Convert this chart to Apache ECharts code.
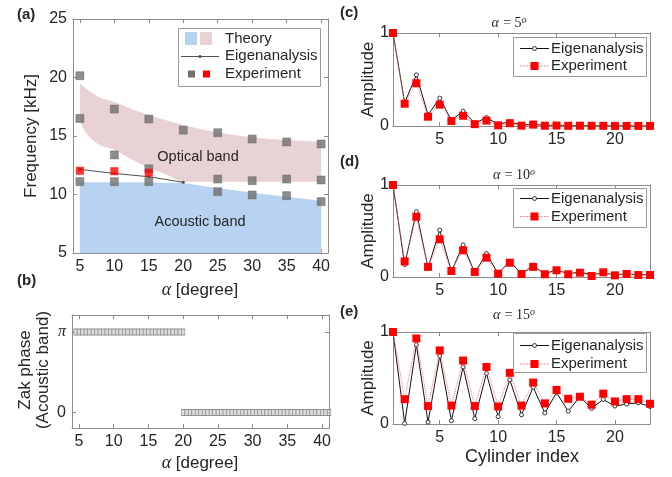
<!DOCTYPE html>
<html><head><meta charset="utf-8">
<script src="https://cdn.jsdelivr.net/npm/echarts@6/dist/echarts.min.js"></script>
<style>html,body{margin:0;padding:0;background:#fff}#c{width:672px;height:477px}</style>
</head><body><div id="c"></div>
<script>
// ---------- Panel (a): band structure ----------
const alphaTicks = [5, 10, 15, 20, 25, 30, 35, 40];
const freqTicks = [5, 10, 15, 20, 25];
const bandAlpha      = [5, 6, 7, 8, 10, 12.5, 15, 17.5, 20, 22.5, 25, 30, 35, 40];
const acousticUpper  = [11.05, 11.05, 11.05, 11.05, 11.05, 11.04, 11.02, 11.0, 10.98, 10.75, 10.55, 10.15, 9.8, 9.45];
const opticalUpper   = [19.5, 19.0, 18.6, 18.25, 17.9, 17.3, 16.8, 16.35, 15.95, 15.6, 15.3, 14.9, 14.65, 14.5];
const opticalLower   = [16.2, 15.2, 14.6, 14.2, 13.8, 13.0, 12.3, 11.7, 11.1, 11.1, 11.1, 11.1, 11.1, 11.1];
const eigenAlpha = [5, 10, 15, 20];
const eigenFreq  = [12.15, 11.8, 11.52, 11.04];
const expTopAlpha = [5, 10, 15, 20, 25, 30, 35, 40];
const expTopFreq  = [20.15, 17.3, 16.45, 15.5, 15.28, 14.74, 14.49, 14.32];
const expMidAlpha = [5, 10, 15, 25, 30, 35, 40];
const expMidFreq  = [16.5, 13.38, 12.2, 11.32, 11.18, 11.32, 11.24];
const expLowAlpha = [5, 10, 15, 25, 30, 35, 40];
const expLowFreq  = [11.1, 11.1, 11.1, 10.24, 9.96, 9.9, 9.39];
const expRedAlpha = [5, 10, 15];
const expRedFreq  = [12.03, 11.99, 11.86];
// ---------- Panel (b): Zak phase ----------
const zakAlphaNontrivial = [4.5,5,5.5,6,6.5,7,7.5,8,8.5,9,9.5,10,10.5,11,11.5,12,12.5,13,13.5,14,14.5,15,15.5,16,16.5,17,17.5,18,18.5,19,19.5,20];
const zakAlphaTrivial = [20,20.5,21,21.5,22,22.5,23,23.5,24,24.5,25,25.5,26,26.5,27,27.5,28,28.5,29,29.5,30,30.5,31,31.5,32,32.5,33,33.5,34,34.5,35,35.5,36,36.5,37,37.5,38,38.5,39,39.5,40,40.5,41];
const zakNontrivial = Math.PI;
const zakTrivial = 0;
// ---------- Panels (c)-(e): mode amplitudes ----------
const cylinderIndex = [1,2,3,4,5,6,7,8,9,10,11,12,13,14,15,16,17,18,19,20,21,22,23];
const cylinderTicks = [5, 10, 15, 20];
const amp5Eigen  = [1.0,0.25,0.55,0.12,0.30,0.06,0.16,0.03,0.09,0.02,0.045,0.01,0.02,0.005,0.01,0.003,0.004,0.002,0.002,0.001,0.001,0.001,0.001];
const amp5Exp    = [1.0,0.24,0.46,0.10,0.23,0.054,0.11,0.02,0.058,0.007,0.03,0.004,0.015,0.003,0.005,0.002,0.003,0.002,0.002,0.001,0.001,0.001,0.001];
const amp10Eigen = [1.0,0.135,0.71,0.10,0.51,0.06,0.35,0.045,0.255,0.036,0.17,0.036,0.12,0.033,0.08,0.033,0.055,0.025,0.044,0.025,0.033,0.025,0.025];
const amp10Exp   = [1.0,0.17,0.655,0.11,0.41,0.065,0.29,0.055,0.21,0.036,0.155,0.033,0.11,0.03,0.073,0.03,0.047,0.011,0.051,0.018,0.033,0.022,0.022];
const amp15Eigen = [1.0,0.007,0.86,0.02,0.74,0.036,0.62,0.058,0.55,0.08,0.48,0.10,0.40,0.12,0.34,0.14,0.296,0.17,0.267,0.195,0.217,0.23,0.19];
const amp15Exp   = [1.0,0.27,0.93,0.195,0.80,0.20,0.69,0.195,0.62,0.19,0.556,0.20,0.45,0.224,0.37,0.274,0.296,0.21,0.33,0.245,0.27,0.27,0.22];

const FRAME = '#8c8c8c', TXT = '#262626', SANS = 'Liberation Sans, Arial, sans-serif', SERIF = 'Liberation Serif, DejaVu Serif, serif';
const BLUE = '#b8d3f1', PINK = '#e8d2d3', GRAY = '#707070', RED = '#ff0000';
const zip = (xs, ys) => xs.map((x, i) => [x, ys[i]]);

const grids = [
  {left: 73, top: 19, width: 255, height: 234},
  {left: 72, top: 315, width: 257, height: 113},
  {left: 393, top: 33, width: 257, height: 93},
  {left: 393, top: 185, width: 257, height: 92},
  {left: 393, top: 332, width: 257, height: 92}
];
const xSpec = [
  {min: 4, max: 41, ticks: alphaTicks},
  {min: 4, max: 41, ticks: alphaTicks},
  {min: 1, max: 23, ticks: cylinderTicks},
  {min: 1, max: 23, ticks: cylinderTicks},
  {min: 1, max: 23, ticks: cylinderTicks}
];
const ySpec = [
  {min: 5, max: 25, ticks: freqTicks},
  {min: -0.6, max: 3.8, ticks: [0, Math.PI]},
  {min: 0, max: 1, ticks: [0, 1]},
  {min: 0, max: 1, ticks: [0, 1]},
  {min: 0, max: 1, ticks: [0, 1]}
];
const xAxis = [], yAxis = [];
grids.forEach((g, i) => {
  ['bottom', 'top'].forEach((pos, k) => xAxis.push({
    type: 'value', gridIndex: i, min: xSpec[i].min, max: xSpec[i].max, position: pos,
    axisLine: {show: true, onZero: false, lineStyle: {color: FRAME, width: 1}},
    axisTick: {show: true, inside: true, length: 4, customValues: xSpec[i].ticks, lineStyle: {color: FRAME}},
    axisLabel: {show: k === 0, customValues: xSpec[i].ticks, color: TXT, fontSize: 16, fontFamily: SANS, margin: 6},
    splitLine: {show: false}
  }));
  ['left', 'right'].forEach((pos, k) => yAxis.push({
    type: 'value', gridIndex: i, min: ySpec[i].min, max: ySpec[i].max, position: pos,
    axisLine: {show: true, onZero: false, lineStyle: {color: FRAME, width: 1}},
    axisTick: {show: true, inside: true, length: 4, customValues: ySpec[i].ticks, lineStyle: {color: FRAME}},
    axisLabel: {show: k === 0, customValues: ySpec[i].ticks, color: TXT, fontSize: 16, fontFamily: SANS, margin: i >= 2 ? 4 : 6,
      formatter: i === 1 ? (v => (v > 1 ? '{p|π}' : '0')) : null,
      rich: {p: {fontFamily: SERIF, fontStyle: 'italic', fontSize: 16, color: TXT}}},
    splitLine: {show: false}
  }));
});

const series = [];
const ax = i => ({xAxisIndex: 2 * i, yAxisIndex: 2 * i});
// bands
series.push(Object.assign({type: 'line', name: 'Theory optical', data: zip(bandAlpha, opticalUpper), smooth: 0.3, showSymbol: false, silent: true,
  lineStyle: {width: 0}, areaStyle: {color: PINK, opacity: 1, origin: 'start'}, z: 1}, ax(0)));
series.push(Object.assign({type: 'line', name: 'gap', data: zip(bandAlpha, opticalLower), smooth: 0.3, showSymbol: false, silent: true,
  lineStyle: {width: 0}, areaStyle: {color: '#ffffff', opacity: 1, origin: 'start'}, z: 1}, ax(0)));
series.push(Object.assign({type: 'line', name: 'Theory acoustic', data: zip(bandAlpha, acousticUpper), smooth: 0.3, showSymbol: false, silent: true,
  lineStyle: {width: 0}, areaStyle: {color: BLUE, opacity: 1, origin: 'start'}, z: 1}, ax(0)));
series.push(Object.assign({type: 'line', name: 'Eigenanalysis', data: zip(eigenAlpha, eigenFreq), symbol: 'circle', symbolSize: 3,
  lineStyle: {color: '#505050', width: 1}, itemStyle: {color: '#505050'}, z: 3}, ax(0)));
[[expTopAlpha, expTopFreq], [expMidAlpha, expMidFreq], [expLowAlpha, expLowFreq]].forEach(([xs, ys]) => {
  series.push(Object.assign({type: 'scatter', name: 'Experiment', data: zip(xs, ys), symbol: 'rect', symbolSize: 8,
    itemStyle: {color: GRAY, borderColor: '#5a5a5a', borderWidth: 0.5}, z: 4}, ax(0)));
});
series.push(Object.assign({type: 'scatter', name: 'Experiment red', data: zip(expRedAlpha, expRedFreq), symbol: 'rect', symbolSize: 8,
  itemStyle: {color: RED}, z: 5}, ax(0)));
// zak phase
[[zakAlphaNontrivial, zakNontrivial], [zakAlphaTrivial, zakTrivial]].forEach(([xs, v]) => {
  series.push(Object.assign({type: 'scatter', name: 'Zak', data: xs.map(x => [x, v]), symbol: 'rect', symbolSize: [3.5, 6], clip: false,
    itemStyle: {color: '#d2d2d2', borderColor: '#7a7a7a', borderWidth: 0.8}, z: 3}, ax(1)));
});
// amplitudes
[[amp5Eigen, amp5Exp], [amp10Eigen, amp10Exp], [amp15Eigen, amp15Exp]].forEach(([e, x], k) => {
  const gi = k + 2;
  series.push(Object.assign({type: 'line', name: 'Eigenanalysis', data: zip(cylinderIndex, e), symbol: 'circle', symbolSize: 4,
    lineStyle: {color: '#111', width: 1}, itemStyle: {color: '#fff', borderColor: '#333', borderWidth: 1}, z: 3}, ax(gi)));
  series.push(Object.assign({type: 'line', name: 'Experiment', data: zip(cylinderIndex, x), symbol: 'rect', symbolSize: 8,
    lineStyle: {color: '#ff7070', width: 1, type: 'dotted'}, itemStyle: {color: RED}, z: 4}, ax(gi)));
});

// ---------- graphic: labels, titles, legends ----------
const G = [];
const txt = (x, y, text, o) => G.push(Object.assign({type: 'text', x, y, z: 100,
  style: Object.assign({text, fill: TXT, font: '16px ' + SANS, align: 'center', verticalAlign: 'middle'}, (o && o.style) || {})},
  o ? {rotation: o.rotation || 0} : {}));
// panel letters
[['(a)', 17, 15], ['(b)', 17, 281], ['(c)', 340, 13], ['(d)', 340, 162], ['(e)', 340, 312]].forEach(([t, x, y]) =>
  txt(x, y, t, {style: {font: 'bold 15px ' + SANS, align: 'left'}}));
// axis titles
const alphaRich = {a: {fontFamily: SERIF, fontStyle: 'italic', fontSize: 18, fill: TXT}, d: {fontFamily: SANS, fontSize: 17, fill: TXT}};
txt(200, 290, '{a|α} {d|[degree]}', {style: {rich: alphaRich}});
txt(200, 463, '{a|α} {d|[degree]}', {style: {rich: alphaRich}});
txt(31, 136, 'Frequency [kHz]', {rotation: Math.PI / 2, style: {font: '17px ' + SANS}});
txt(34, 370, 'Zak phase\n(Acoustic band)', {rotation: Math.PI / 2, style: {font: '17px ' + SANS, lineHeight: 18}});
[79.5, 231, 378].forEach(y => txt(368, y, 'Amplitude', {rotation: Math.PI / 2, style: {font: '17px ' + SANS}}));
txt(522, 457, 'Cylinder index', {style: {font: '18px ' + SANS}});
// panel titles
const tRich = {i: {fontFamily: SERIF, fontStyle: 'italic', fontSize: 14, fill: TXT}, r: {fontFamily: SERIF, fontSize: 14, fill: TXT},
  s: {fontFamily: SERIF, fontStyle: 'italic', fontSize: 10, fill: TXT, verticalAlign: 'top', padding: [0, 0, 6, 0]}};
[['5', 509, 23], ['10', 514, 175], ['15', 514, 315]].forEach(([v, x, y]) =>
  txt(x, y, '{i|α} {r|= ' + v + '}{s|o}', {style: {rich: tRich}}));
// annotations
txt(198, 157, 'Optical band', {style: {font: '14.5px ' + SANS}});
txt(200, 222, 'Acoustic band', {style: {font: '14.5px ' + SANS}});
// legend (a)
G.push({type: 'rect', z: 90, shape: {x: 178.5, y: 28.5, width: 142, height: 58}, style: {fill: '#fff', stroke: '#999', lineWidth: 1}});
G.push({type: 'rect', z: 100, shape: {x: 185, y: 32, width: 12, height: 13}, style: {fill: BLUE}});
G.push({type: 'rect', z: 100, shape: {x: 200, y: 32, width: 12, height: 13}, style: {fill: PINK}});
txt(225, 38.5, 'Theory', {style: {font: '15px ' + SANS, align: 'left'}});
G.push({type: 'line', z: 100, shape: {x1: 181, y1: 56.5, x2: 219, y2: 56.5}, style: {stroke: '#505050', lineWidth: 1}});
G.push({type: 'circle', z: 100, shape: {cx: 200, cy: 56.5, r: 1.6}, style: {fill: '#505050'}});
txt(225, 56, 'Eigenanalysis', {style: {font: '15px ' + SANS, align: 'left'}});
G.push({type: 'rect', z: 100, shape: {x: 188, y: 70.5, width: 7, height: 7}, style: {fill: GRAY}});
G.push({type: 'rect', z: 100, shape: {x: 203, y: 70.5, width: 7, height: 7}, style: {fill: RED}});
txt(225, 74, 'Experiment', {style: {font: '15px ' + SANS, align: 'left'}});
// legends (c)-(e)
[[37, 48.5, 66], [188, 198.5, 216.5], [333, 345.5, 364]].forEach(([top, r1, r2]) => {
  G.push({type: 'rect', z: 90, shape: {x: 513.5, y: top + 0.5, width: 133, height: 39}, style: {fill: '#fff', stroke: '#999', lineWidth: 1}});
  G.push({type: 'line', z: 100, shape: {x1: 520, y1: r1, x2: 549, y2: r1}, style: {stroke: '#111', lineWidth: 1}});
  G.push({type: 'circle', z: 101, shape: {cx: 534.5, cy: r1, r: 2}, style: {fill: '#fff', stroke: '#333', lineWidth: 1}});
  txt(551, r1, 'Eigenanalysis', {style: {font: '15px ' + SANS, align: 'left'}});
  G.push({type: 'line', z: 100, shape: {x1: 520, y1: r2, x2: 549, y2: r2}, style: {stroke: '#ff7070', lineWidth: 1, lineDash: [1.5, 1.5]}});
  G.push({type: 'rect', z: 101, shape: {x: 530.5, y: r2 - 4, width: 8, height: 8}, style: {fill: RED}});
  txt(551, r2, 'Experiment', {style: {font: '15px ' + SANS, align: 'left'}});
});

const chart = echarts.init(document.getElementById('c'), null, {renderer: 'canvas'});
chart.setOption({animation: false, backgroundColor: '#fff', grid: grids, xAxis, yAxis, series, graphic: {elements: G}});
</script></body></html>
